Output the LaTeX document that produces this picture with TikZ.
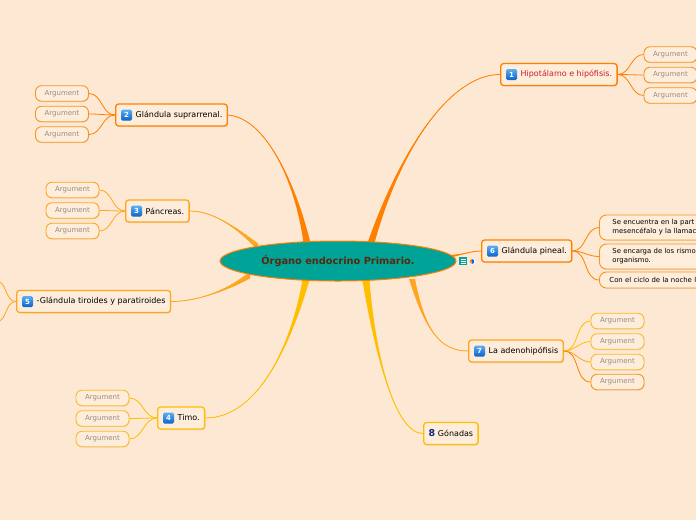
\documentclass[tikz,border=0pt]{standalone}
\usepackage{fontspec}
\setmainfont{DejaVu Sans}
\usetikzlibrary{calc,shapes.geometric,shadows}
\definecolor{bg}{RGB}{253,232,211}
\definecolor{nodefill}{RGB}{255,237,219}
\definecolor{corange}{RGB}{255,128,0}
\definecolor{corange2}{RGB}{247,148,29}
\definecolor{cyorange}{RGB}{255,165,30}
\definecolor{cyellow}{RGB}{255,190,0}
\definecolor{cyellow2}{RGB}{251,186,40}
\definecolor{teal}{RGB}{0,163,152}
\definecolor{titlec}{RGB}{90,40,10}
\definecolor{redtext}{RGB}{200,30,50}
\definecolor{argtext}{RGB}{150,140,130}
\definecolor{icontop}{RGB}{90,175,245}
\definecolor{iconbot}{RGB}{10,100,200}
\definecolor{darkblue}{RGB}{20,40,140}
\newcommand\mybranch[6]{%
  \fill[#6] ($(#1)+(#5)$) .. controls (#2) and (#3) .. (#4)
     .. controls (#3) and (#2) .. ($(#1)-(#5)$) -- cycle;
  \draw[#6, line width=0.8pt] (#1) .. controls (#2) and (#3) .. (#4);}
\begin{document}
\begin{tikzpicture}[x=1pt,y=-1pt,
  topic/.style={draw=#1, line width=1.3pt, rounded corners=3pt, fill=nodefill,
    minimum height=22pt, inner xsep=5pt, inner ysep=2pt, anchor=west,
    font=\fontsize{8}{9.5}\selectfont,
    drop shadow={opacity=0.18, shadow xshift=0.8pt, shadow yshift=-1pt}},
  arg/.style={draw=#1, line width=0.9pt, rounded corners=6pt, fill=nodefill,
    minimum width=53pt, minimum height=15.5pt, inner sep=0pt,
    font=\fontsize{7}{8}\selectfont, text=argtext,
    drop shadow={opacity=0.15, shadow xshift=0.6pt, shadow yshift=-0.8pt}},
  note/.style={draw=corange2, line width=0.9pt, rounded corners=7pt, fill=nodefill,
    minimum width=130pt, anchor=west, align=left, text width=110pt,
    font=\fontsize{6.9}{9}\selectfont,
    drop shadow={opacity=0.15, shadow xshift=0.6pt, shadow yshift=-0.8pt}},
  num/.style={shade, top color=icontop, bottom color=iconbot, rounded corners=1.5pt,
    minimum size=11pt, inner sep=0pt, text=white, font=\fontsize{7}{8}\bfseries\selectfont},
  link/.style={draw=#1, line width=0.8pt}
]
\path[use as bounding box] (0,0) rectangle (696,520);
\clip (0,0) rectangle (696,520);
\fill[bg] (0,0) rectangle (696,520);

% branch start points on the central ellipse
\coordinate (s1) at (371,243);
\coordinate (s2) at (307,243);
\coordinate (s3) at (258,247);
\coordinate (s5) at (250,275);
\coordinate (s4) at (306,280);
\coordinate (s8) at (366,281);
\coordinate (s7) at (412,279);
\coordinate (s6) at (452,256);

% topics
\node[topic=corange, text=redtext] (n1) at (500,74.5) {\hspace*{15pt}Hipotálamo e hipófisis.};
\node[topic=corange] (n2) at (115,115) {\hspace*{15pt}Glándula suprarrenal.};
\node[topic=cyorange] (n3) at (125,211) {\hspace*{15pt}Páncreas.};
\node[topic=cyorange] (n5) at (16,301.5) {\hspace*{15pt}-Glándula tiroides y paratiroides};
\node[topic=cyellow] (n4) at (157,418) {\hspace*{15pt}Timo.};
\node[topic=corange] (n6) at (481,251) {\hspace*{15pt}Glándula pineal.};
\node[topic=cyorange] (n7) at (468,351) {\hspace*{15pt}La adenohipófisis};
\node[topic=cyellow] (n8) at (423,433.5) {{\color{darkblue}\bfseries\fontsize{9.5}{10}\selectfont 8}\,\,Gónadas};

% icons
\node[num] (i1) at ($(n1.west)+(11.5,0)$) {1};
\node[num] (i2) at ($(n2.west)+(11.5,0)$) {2};
\node[num] (i3) at ($(n3.west)+(11.5,0)$) {3};
\node[num] (i5) at ($(n5.west)+(11.5,0)$) {5};
\node[num] (i4) at ($(n4.west)+(11.5,0)$) {4};
\node[num] (i6) at ($(n6.west)+(11.5,0)$) {6};
\node[num] (i7) at ($(n7.west)+(11.5,0)$) {7};

% main branches
\mybranch{s1}{400,150}{450,74.5}{n1.west}{3.5,0}{corange}
\mybranch{s2}{295,180}{265,118}{n2.east}{3.5,0}{corange}
\mybranch{s3}{235,226}{212,211}{n3.east}{0,3.5}{cyorange}
\mybranch{s5}{225,292}{195,301.5}{n5.east}{0,3.5}{cyorange}
\mybranch{s4}{292,340}{260,418}{n4.east}{3.5,0}{cyellow}
\mybranch{s8}{376,360}{396,433.5}{n8.west}{3.5,0}{cyellow}
\mybranch{s7}{425,330}{440,351}{n7.west}{3,0}{cyorange}
\mybranch{s6}{465,254}{472,251}{n6.west}{0,1.2}{corange}

% central ellipse
\node[ellipse, draw=corange, line width=1pt, fill=teal, minimum width=236pt,
  minimum height=40pt, inner sep=0pt, text=titlec,
  font=\fontsize{9.8}{11}\bfseries\selectfont] (c) at (338,261) {Órgano endocrino Primario.};

% small icons beside the ellipse
\node[fill=teal, minimum size=8pt, inner sep=0pt] (ic1) at (463,261) {};
\draw[white, line width=0.5pt] ($(ic1)+(-2.5,-2)$) -- ++(5,0) ($(ic1)+(-2.5,0)$) -- ++(5,0) ($(ic1)+(-2.5,2)$) -- ++(5,0);
\node[circle, fill=white, minimum size=6.5pt, inner sep=0pt] (ic2) at (472,261.5) {};
\begin{scope}
  \clip (ic2.center) circle (2.4pt);
  \fill[orange] ($(ic2.center)+(-3,-3)$) rectangle (ic2.center);
  \fill[blue!60!cyan] ($(ic2.center)+(0,-3)$) rectangle ($(ic2.center)+(3,3)$);
  \fill[gray!60] ($(ic2.center)+(-3,0)$) rectangle ($(ic2.center)+(0,3)$);
\end{scope}

% argument children of 1
\node[arg=corange2] (a11) at (670.5,54.5) {Argument};
\node[arg=corange2] (a12) at (670.5,75) {Argument};
\node[arg=corange2] (a13) at (670.5,95.5) {Argument};
\foreach \k in {a11,a12,a13} \draw[link=corange] (n1.east) to[out=0,in=180] (\k.west);

% children of 2
\node[arg=corange2] (a21) at (62,93.5) {Argument};
\node[arg=corange2] (a22) at (62,114) {Argument};
\node[arg=corange2] (a23) at (62,134.5) {Argument};
\foreach \k in {a21,a22,a23} \draw[link=corange] (n2.west) to[out=180,in=0] (\k.east);

% children of 3
\node[arg=cyorange] (a31) at (72.5,190) {Argument};
\node[arg=cyorange] (a32) at (72.5,210.5) {Argument};
\node[arg=cyorange] (a33) at (72.5,231) {Argument};
\foreach \k in {a31,a32,a33} \draw[link=cyorange] (n3.west) to[out=180,in=0] (\k.east);

% children of 5 (off the left edge)
\coordinate (e51) at (-4,281);
\coordinate (e52) at (-4,322);
\draw[link=cyorange] (n5.west) to[out=180,in=0] (e51);
\draw[link=cyorange] (n5.west) to[out=180,in=0] (e52);

% children of 4
\node[arg=cyellow2] (a41) at (102.5,398) {Argument};
\node[arg=cyellow2] (a42) at (102.5,418.5) {Argument};
\node[arg=cyellow2] (a43) at (102.5,439) {Argument};
\foreach \k in {a41,a42,a43} \draw[link=cyellow] (n4.west) to[out=180,in=0] (\k.east);

% children of 6
\node[note, minimum height=25pt, inner xsep=13pt] (p1) at (599,227.5) {Se encuentra en la part\\mesencéfalo y la llamac};
\node[note, minimum height=25pt, inner xsep=13pt] (p2) at (599,256.5) {Se encarga de los rismo\\organismo.};
\node[note, minimum height=16pt, inner xsep=9pt] (p3) at (599,280) {Con el ciclo de la noche l};
\foreach \k in {p1,p2,p3} \draw[link=corange] (n6.east) to[out=0,in=180] (\k.west);

% children of 7
\node[arg=cyellow2] (a71) at (617.5,321) {Argument};
\node[arg=cyellow2] (a72) at (617.5,341.5) {Argument};
\node[arg=cyellow2] (a73) at (617.5,362) {Argument};
\node[arg=corange2] (a74) at (617.5,382) {Argument};
\draw[link=cyellow] (n7.east) to[out=0,in=180] (a71.west);
\draw[link=cyellow] (n7.east) to[out=0,in=180] (a72.west);
\draw[link=cyorange] (n7.east) to[out=0,in=180] (a73.west);
\draw[link=corange] (n7.east) to[out=0,in=180] (a74.west);
\end{tikzpicture}
\end{document}
